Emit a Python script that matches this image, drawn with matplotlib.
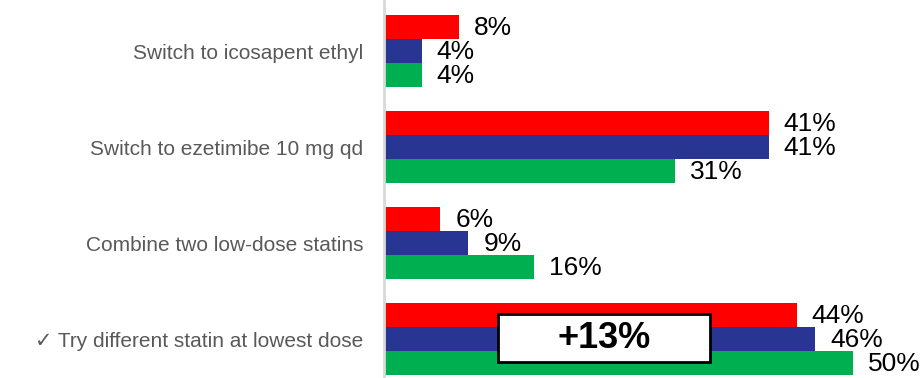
import matplotlib
matplotlib.use("Agg")
import matplotlib.pyplot as plt
from matplotlib.patches import Rectangle
import numpy as np

plt.rcParams['font.family'] = ['Liberation Sans', 'DejaVu Sans']

categories = [
    "Switch to icosapent ethyl",
    "Switch to ezetimibe 10 mg qd",
    "Combine two low-dose statins",
    "\u2713 Try different statin at lowest dose",
]
red_vals = [8, 41, 6, 44]
blue_vals = [4, 41, 9, 46]
green_vals = [4, 31, 16, 50]
series = [red_vals, blue_vals, green_vals]
colors = ["#FF0000", "#283593", "#00B050"]
callout_text = "+13%"

fig = plt.figure(figsize=(9.21, 3.78), dpi=100)
ax = fig.add_axes([384 / 921, 0, 1 - 384 / 921, 1])

centers = np.arange(len(categories)) * 4.0
offsets = [-1, 0, 1]
for vals, col, off in zip(series, colors, offsets):
    y = centers + off
    ax.barh(y, vals, height=1.0, color=col, edgecolor="none")
    for yy, v in zip(y, vals):
        ax.annotate(f"{v}%", xy=(v, yy), xytext=(15, -1), textcoords="offset pixels",
                    ha="left", va="center", fontsize=19, color="black")

ax.set_xlim(0, 57.25)
ax.set_ylim(13.625, -2.125)

for s in ["top", "right", "bottom"]:
    ax.spines[s].set_visible(False)
ax.spines["left"].set_color("#d9d9d9")
ax.spines["left"].set_linewidth(2)
ax.set_xticks([])
ax.set_yticks(centers)
ax.set_yticklabels(categories, fontsize=15, color="#595959")
ax.tick_params(axis="y", length=0, pad=15)

# Callout on the last group
rect = Rectangle((12.15, 10.96), 22.6, 2.0, facecolor="white", edgecolor="black",
                 linewidth=2, zorder=5)
ax.add_patch(rect)
ax.text(12.15 + 11.3, 11.96, callout_text, ha="center", va="center",
        fontsize=26, fontweight="bold", color="black", zorder=6)

fig.savefig("out.png", dpi=100)
